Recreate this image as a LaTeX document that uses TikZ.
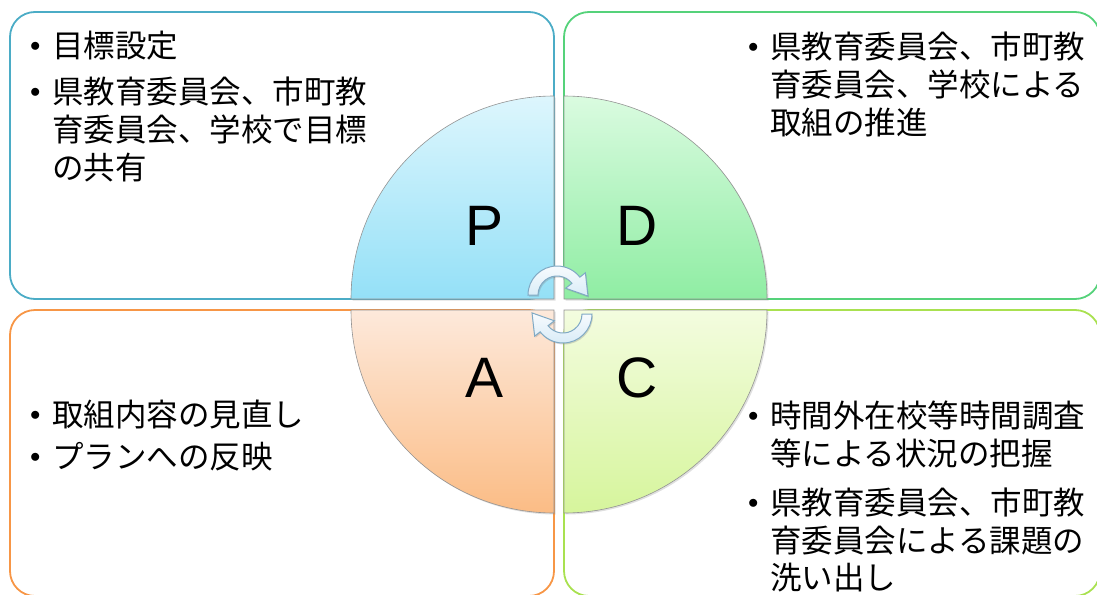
\documentclass[tikz,border=0pt]{standalone}
\usepackage{fontspec}
\newfontfamily\jpfont{Noto Sans CJK JP}
\newfontfamily\pdcafont{Liberation Sans}
\usetikzlibrary{positioning,calc,shadows}

\definecolor{boxP}{HTML}{4BACC6}
\definecolor{boxD}{HTML}{55D27A}
\definecolor{boxA}{HTML}{F79646}
\definecolor{boxC}{HTML}{A9E150}
\definecolor{Ptop}{HTML}{DDF6FD}
\definecolor{Pbot}{HTML}{94E0F7}
\definecolor{Dtop}{HTML}{DAFBE0}
\definecolor{Dbot}{HTML}{8FEDA3}
\definecolor{Atop}{HTML}{FDE9DB}
\definecolor{Abot}{HTML}{FBBC85}
\definecolor{Ctop}{HTML}{F3FCDF}
\definecolor{Cbot}{HTML}{D6F59C}
\definecolor{arrowtop}{HTML}{F7FBFE}
\definecolor{arrowbot}{HTML}{D9ECF7}
\definecolor{arrowline}{HTML}{7FA9C4}

\newcommand{\pitem}[1]{\makebox[22pt][l]{\raisebox{6pt}{\fontsize{20}{20}\selectfont$\bullet$}}\begin{tabular}[t]{@{}l@{}}#1\end{tabular}}

\begin{document}
\begin{tikzpicture}[x=1pt,y=-1pt,
  frame/.style={draw,line width=1.8pt,rounded corners=25pt},
  quarter/.style={draw=gray!85,line width=0.6pt,
    drop shadow={opacity=0.25,shadow xshift=1.5pt,shadow yshift=-1.5pt}},
  letter/.style={font=\pdcafont\fontsize{57}{57}\selectfont,inner sep=0pt},
  item/.style={font=\jpfont\fontsize{31.5}{37}\selectfont,inner sep=0pt,anchor=north west,align=left},
  turn/.style={top color=arrowtop,bottom color=arrowbot,draw=arrowline,line width=1pt,
    drop shadow={opacity=0.3,shadow xshift=1pt,shadow yshift=-1.5pt}}]
  \useasboundingbox (0,0) rectangle (1097,594);

  \draw[frame,boxP] (10,12) rectangle (554,299);
  \draw[frame,boxD] (564,12) rectangle (1100,299);
  \draw[frame,boxA] (10,310) rectangle (554,596);
  \draw[frame,boxC] (564,310) rectangle (1100,596);

  \foreach \cx/\cy/\sa/\q in {554/299/180/P, 564/299/270/D, 554/310/90/A, 564/310/0/C}
    \path[quarter,top color=\q top,bottom color=\q bot]
      (\cx,\cy) -- +(\sa:203) arc[start angle=\sa,end angle=\sa+90,radius=203] -- cycle;

  \node[letter] (lP) at (485,226) {P};
  \node[letter] (lD) at (637,226) {D};
  \node[letter] (lA) at (485,378) {A};
  \node[letter] (lC) at (637,378) {C};

  \coordinate (c1) at (557,295);
  \coordinate (c2) at (563,314);
  \path[turn] ($(c1)+(180:29)$) arc[start angle=180,end angle=322,radius=29]
    -- ($(c1)+(322:36)$) -- ($(c1)+(2:31)$) -- ($(c1)+(322:11)$)
    -- ($(c1)+(322:19)$) arc[start angle=322,end angle=180,radius=19] -- cycle;
  \path[turn] ($(c2)+(0:29)$) arc[start angle=0,end angle=142,radius=29]
    -- ($(c2)+(142:36)$) -- ($(c2)+(182:31)$) -- ($(c2)+(142:11)$)
    -- ($(c2)+(142:19)$) arc[start angle=142,end angle=0,radius=19] -- cycle;

  \node[item] (p1) at (30,31) {\pitem{目標設定}};
  \node[item] (p2) [below right=8pt and 0pt of p1.south west]
    {\pitem{県教育委員会、市町教\\育委員会、学校で目標\\の共有}};

  \node[item] (d1) at (748,32) {\pitem{県教育委員会、市町教\\育委員会、学校による\\取組の推進}};

  \node[item] (a1) at (30,400) {\pitem{取組内容の見直し}};
  \node[item] (a2) [below right=4pt and 0pt of a1.south west] {\pitem{プランへの反映}};

  \node[item] (c1t) at (748,401) {\pitem{時間外在校等時間調査\\等による状況の把握}};
  \node[item] (c2t) [below right=11pt and 0pt of c1t.south west]
    {\pitem{県教育委員会、市町教\\育委員会による課題の\\洗い出し}};
\end{tikzpicture}
\end{document}
